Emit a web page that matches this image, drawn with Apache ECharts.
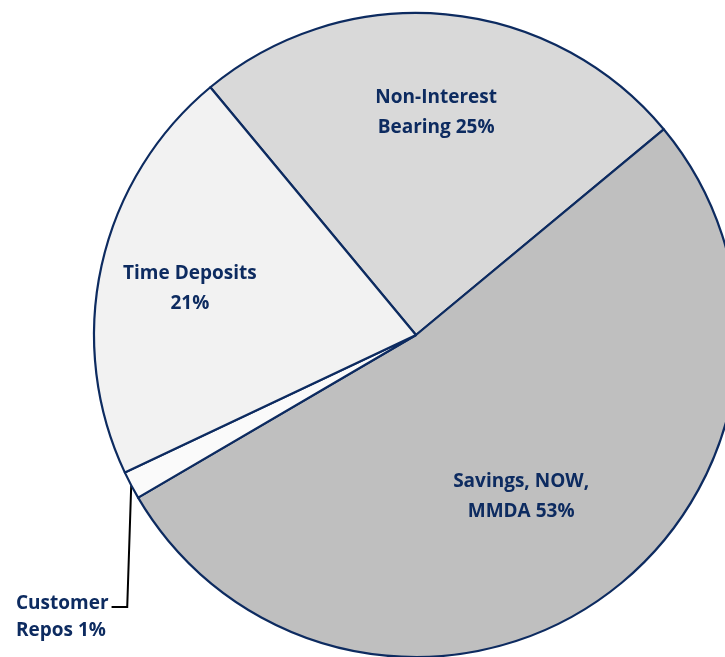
<!DOCTYPE html>
<html>
<head>
<meta charset="utf-8">
<script src="https://cdn.jsdelivr.net/npm/echarts@6/dist/echarts.min.js"></script>
<style>
  html, body { margin: 0; padding: 0; background: #fff; }
  #main { width: 725px; height: 657px; }
</style>
</head>
<body>
<div id="main"></div>
<script>
// deposit mix (share of total deposits)
var categories = ['Non-Interest\nBearing', 'Savings, NOW,\nMMDA', 'Customer\nRepos', 'Time Deposits\n'];
var values = [25.0, 52.6, 1.4, 21.0];
var colors = ['#d9d9d9', '#bfbfbf', '#fafafa', '#f2f2f2'];

// nudge of each inside label from the default mid-radius spot
var labelOffsets = [[5, -59], [11, 27], [0, 0], [-66, -11]];

var navy = '#0d2b60';
var chart = echarts.init(document.getElementById('main'));

var seriesData = values.map(function (v, i) {
    var item = {
        name: categories[i],
        value: v,
        itemStyle: { color: colors[i] },
        label: { offset: labelOffsets[i] }
    };
    if (i === 2) {
        // small slice gets an outside label with a leader line
        item.label = {
            position: 'outside',
            align: 'left',
            lineHeight: 27
        };
        item.labelLine = { show: true, length: 10, length2: 10, lineStyle: { color: '#000', width: 2 } };
    }
    return item;
});

chart.setOption({
    animation: false,
    backgroundColor: '#fff',
    series: [{
        type: 'pie',
        center: [416, 335],
        radius: [0, 322],
        startAngle: 129.7,
        clockwise: true,
        percentPrecision: 0,
        avoidLabelOverlap: false,
        itemStyle: { borderColor: navy, borderWidth: 2.2 },
        label: {
            show: true,
            position: 'inside',
            color: navy,
            fontFamily: 'Open Sans',
            fontWeight: 'bold',
            fontSize: 19,
            lineHeight: 30,
            align: 'center',
            formatter: function (p) {
                return p.name.replace(/\n$/, '') + (p.name.slice(-1) === '\n' ? '\n' : ' ') + p.percent + '%';
            }
        },
        labelLine: { show: false },
        labelLayout: function (params) {
            if (params.dataIndex !== 2) return {};
            var pts = params.labelLinePoints;
            var start = pts[0];
            var lx = 16, ly = 617;
            var w = params.labelRect.width;
            var cornerY = ly - 10;
            return {
                x: lx,
                y: ly,
                align: 'left',
                verticalAlign: 'middle',
                labelLinePoints: [start, [start[0] - 4, cornerY], [lx + w + 3, cornerY]]
            };
        },
        data: seriesData
    }]
});
</script>
</body>
</html>
